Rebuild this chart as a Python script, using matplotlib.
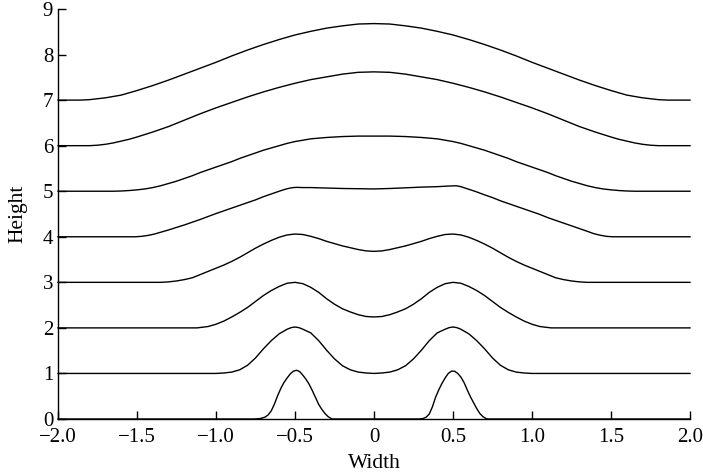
import matplotlib
matplotlib.use("Agg")
import matplotlib.pyplot as plt

plt.rcParams['font.family'] = ['Liberation Serif', 'DejaVu Serif']

# ---- data (x = width, y = height of each stacked profile) ----
x0 = [-2.0, -0.76, -0.72, -0.69, -0.67, -0.65, -0.63, -0.61, -0.59, -0.57, -0.55, -0.53, -0.51, -0.49, -0.47, -0.45,
      -0.43, -0.41, -0.39, -0.37, -0.35, -0.33, -0.31, -0.29, -0.27, -0.26,
      0.285, 0.31, 0.33, 0.35, 0.37, 0.39, 0.41, 0.43, 0.45, 0.47, 0.49, 0.51, 0.53, 0.55, 0.57, 0.59, 0.61, 0.63,
      0.65, 0.67, 0.69, 0.71, 0.72, 2.0]
y0 = [0.0, 0.0, 0.01, 0.04, 0.09, 0.18, 0.33, 0.51, 0.67, 0.80, 0.90, 0.99, 1.05, 1.07, 1.04, 0.96,
      0.87, 0.76, 0.62, 0.47, 0.32, 0.21, 0.12, 0.05, 0.01, 0.0,
      0.0, 0.01, 0.04, 0.11, 0.27, 0.48, 0.64, 0.78, 0.90, 1.00, 1.05, 1.05, 1.00, 0.92, 0.80, 0.64, 0.49, 0.36,
      0.23, 0.12, 0.05, 0.01, 0.0, 0.0]

x1 = [-2.0, -1.0, -0.95, -0.90, -0.85, -0.80, -0.75, -0.70, -0.65, -0.60, -0.55, -0.525, -0.50, -0.475, -0.45, -0.40,
      -0.35, -0.30, -0.25, -0.20, -0.15, -0.10, -0.05, 0.0, 0.05, 0.10, 0.15, 0.20, 0.25, 0.30, 0.35, 0.40, 0.45,
      0.475, 0.50, 0.525, 0.55, 0.60, 0.65, 0.70, 0.75, 0.80, 0.85, 0.90, 0.95, 1.0, 2.0]
y1 = [1.0, 1.0, 1.01, 1.03, 1.08, 1.18, 1.34, 1.54, 1.72, 1.87, 1.97, 2.005, 2.02, 2.005, 1.97, 1.89,
      1.72, 1.51, 1.32, 1.17, 1.08, 1.03, 1.01, 1.0, 1.01, 1.03, 1.08, 1.17, 1.32, 1.51, 1.72, 1.89, 1.97,
      2.005, 2.02, 2.005, 1.97, 1.87, 1.72, 1.54, 1.34, 1.18, 1.08, 1.03, 1.01, 1.0, 1.0]

x2 = [-2.0, -1.12, -1.05, -1.0, -0.95, -0.90, -0.85, -0.80, -0.75, -0.70, -0.65, -0.60, -0.55, -0.50, -0.45, -0.40,
      -0.35, -0.30, -0.25, -0.20, -0.15, -0.10, -0.05, 0.0, 0.05, 0.10, 0.15, 0.20, 0.25, 0.30, 0.35, 0.40, 0.45,
      0.50, 0.55, 0.60, 0.65, 0.70, 0.75, 0.80, 0.85, 0.90, 0.95, 1.0, 1.05, 1.12, 2.0]
y2 = [2.0, 2.0, 2.03, 2.08, 2.15, 2.24, 2.34, 2.45, 2.58, 2.71, 2.82, 2.91, 2.98, 3.00, 2.97, 2.89,
      2.78, 2.64, 2.52, 2.42, 2.35, 2.29, 2.25, 2.24, 2.25, 2.29, 2.35, 2.42, 2.52, 2.64, 2.78, 2.89, 2.97,
      3.00, 2.98, 2.91, 2.82, 2.71, 2.58, 2.45, 2.34, 2.24, 2.15, 2.08, 2.03, 2.0, 2.0]

x3 = [-2.0, -1.35, -1.30, -1.25, -1.20, -1.15, -1.10, -1.05, -1.0, -0.95, -0.90, -0.85, -0.80, -0.75, -0.70, -0.65,
      -0.60, -0.55, -0.50, -0.45, -0.40, -0.35, -0.30, -0.25, -0.20, -0.15, -0.10, -0.05, 0.0,
      0.05, 0.10, 0.15, 0.20, 0.25, 0.30, 0.35, 0.40, 0.45, 0.50, 0.55, 0.60, 0.65, 0.70, 0.75, 0.80, 0.85,
      0.90, 0.95, 1.0, 1.05, 1.10, 1.15, 1.20, 1.25, 1.30, 1.35, 2.0]
y3 = [3.0, 3.0, 3.01, 3.03, 3.06, 3.10, 3.17, 3.24, 3.31, 3.38, 3.46, 3.55, 3.65, 3.75, 3.84, 3.92,
      3.99, 4.04, 4.06, 4.05, 4.01, 3.96, 3.90, 3.85, 3.80, 3.76, 3.72, 3.69, 3.68,
      3.69, 3.72, 3.76, 3.80, 3.85, 3.90, 3.96, 4.01, 4.05, 4.06, 4.04, 3.99, 3.92, 3.84, 3.75, 3.65, 3.55,
      3.46, 3.38, 3.31, 3.24, 3.17, 3.10, 3.06, 3.03, 3.01, 3.0, 3.0]

x4 = [-2.0, -1.51, -1.47, -1.43, -1.39, -1.35, -1.30, -1.25, -1.20, -1.15, -1.10, -1.05, -1.0, -0.95, -0.90, -0.85,
      -0.80, -0.75, -0.70, -0.65, -0.60, -0.56, -0.53, -0.51, -0.49, -0.45, -0.40, -0.30, -0.20, -0.10, 0.0,
      0.10, 0.20, 0.30, 0.40, 0.48, 0.52, 0.55, 0.58, 0.62, 0.65, 0.70, 0.75, 0.80, 0.85, 0.90, 0.95, 1.0,
      1.05, 1.10, 1.15, 1.20, 1.25, 1.30, 1.35, 1.39, 1.43, 1.47, 1.51, 2.0]
y4 = [4.0, 4.0, 4.01, 4.03, 4.06, 4.10, 4.15, 4.205, 4.26, 4.32, 4.38, 4.445, 4.51, 4.57, 4.63, 4.69,
      4.75, 4.81, 4.88, 4.94, 5.00, 5.045, 5.07, 5.08, 5.085, 5.08, 5.08, 5.07, 5.06, 5.055, 5.05,
      5.06, 5.075, 5.09, 5.10, 5.115, 5.12, 5.10, 5.065, 5.02, 4.985, 4.92, 4.86, 4.79, 4.73, 4.67, 4.61, 4.55,
      4.49, 4.42, 4.36, 4.30, 4.24, 4.18, 4.12, 4.07, 4.035, 4.01, 4.0, 4.0]

x5 = [-2.0, -1.65, -1.60, -1.55, -1.50, -1.45, -1.40, -1.35, -1.30, -1.25, -1.20, -1.15, -1.10, -1.05, -1.0, -0.95,
      -0.90, -0.85, -0.80, -0.75, -0.70, -0.65, -0.60, -0.55, -0.50, -0.45, -0.40, -0.30, -0.20, -0.10, 0.0,
      0.10, 0.20, 0.30, 0.40, 0.45, 0.50, 0.55, 0.60, 0.65, 0.70, 0.75, 0.80, 0.85, 0.90, 0.95, 1.0, 1.05,
      1.10, 1.15, 1.20, 1.25, 1.30, 1.35, 1.40, 1.45, 1.50, 1.55, 1.60, 1.65, 2.0]
y5 = [5.0, 5.0, 5.005, 5.015, 5.03, 5.05, 5.08, 5.12, 5.17, 5.22, 5.28, 5.34, 5.41, 5.47, 5.53, 5.59,
      5.65, 5.72, 5.78, 5.84, 5.90, 5.95, 6.00, 6.05, 6.09, 6.12, 6.15, 6.18, 6.20, 6.21, 6.21,
      6.21, 6.20, 6.18, 6.15, 6.12, 6.09, 6.05, 6.00, 5.95, 5.90, 5.84, 5.78, 5.72, 5.65, 5.59, 5.53, 5.47,
      5.41, 5.34, 5.28, 5.22, 5.17, 5.12, 5.08, 5.05, 5.03, 5.015, 5.005, 5.0, 5.0]

x6 = [-2.0, -1.80, -1.75, -1.70, -1.65, -1.60, -1.55, -1.50, -1.40, -1.30, -1.20, -1.10, -1.0, -0.90, -0.80, -0.70,
      -0.60, -0.50, -0.40, -0.30, -0.20, -0.10, 0.0, 0.10, 0.20, 0.30, 0.40, 0.50, 0.60, 0.70, 0.80, 0.90,
      1.0, 1.10, 1.20, 1.30, 1.40, 1.50, 1.55, 1.60, 1.65, 1.70, 1.75, 1.80, 2.0]
y6 = [6.0, 6.0, 6.01, 6.03, 6.06, 6.10, 6.14, 6.19, 6.30, 6.42, 6.56, 6.70, 6.83, 6.95, 7.07, 7.18,
      7.28, 7.37, 7.45, 7.51, 7.57, 7.61, 7.62, 7.61, 7.57, 7.51, 7.45, 7.37, 7.28, 7.18, 7.07, 6.95,
      6.83, 6.70, 6.56, 6.42, 6.30, 6.19, 6.14, 6.10, 6.06, 6.03, 6.01, 6.0, 6.0]

x7 = [-2.0, -1.86, -1.80, -1.75, -1.70, -1.65, -1.60, -1.50, -1.40, -1.30, -1.20, -1.10, -1.0, -0.90, -0.80, -0.70,
      -0.60, -0.50, -0.40, -0.30, -0.20, -0.10, 0.0, 0.10, 0.20, 0.30, 0.40, 0.50, 0.60, 0.70, 0.80, 0.90,
      1.0, 1.10, 1.20, 1.30, 1.40, 1.50, 1.60, 1.65, 1.70, 1.75, 1.80, 1.86, 2.0]
y7 = [7.0, 7.0, 7.01, 7.03, 7.05, 7.08, 7.11, 7.21, 7.32, 7.44, 7.57, 7.70, 7.83, 7.97, 8.10, 8.22,
      8.33, 8.43, 8.51, 8.58, 8.63, 8.67, 8.68, 8.67, 8.63, 8.58, 8.51, 8.43, 8.33, 8.22, 8.10, 7.97,
      7.83, 7.70, 7.57, 7.44, 7.32, 7.21, 7.11, 7.08, 7.05, 7.03, 7.01, 7.0, 7.0]

curves = [(x0, y0), (x1, y1), (x2, y2), (x3, y3), (x4, y4), (x5, y5), (x6, y6), (x7, y7)]

x_ticks = [-2.0, -1.5, -1.0, -0.5, 0.0, 0.5, 1.0, 1.5, 2.0]
x_tick_labels = ['\u22122.0', '\u22121.5', '\u22121.0', '\u22120.5', '0', '0.5', '1.0', '1.5', '2.0']
y_ticks = [0, 1, 2, 3, 4, 5, 6, 7, 8, 9]
y_tick_labels = ['0', '1', '2', '3', '4', '5', '6', '7', '8', '9']

fig = plt.figure(figsize=(7.03, 4.76), dpi=100)
ax = fig.add_axes([58 / 703, 57 / 476, (690 - 58) / 703, (419 - 9) / 476])

for xs, ys in curves:
    ax.plot(xs, ys, color='black', lw=1.0, clip_on=False, solid_joinstyle='round')

ax.set_xlim(-2.0, 2.0)
ax.set_ylim(0, 9)
ax.set_xticks(x_ticks)
ax.set_xticklabels(x_tick_labels)
ax.set_yticks(y_ticks)
ax.set_yticklabels(y_tick_labels)
ax.tick_params(direction='in', length=6, width=1.0, labelsize=15)
ax.tick_params(axis='x', pad=6.5)
ax.tick_params(axis='y', pad=3.5)
ax.spines['top'].set_visible(False)
ax.spines['right'].set_visible(False)
for s in ('left', 'bottom'):
    ax.spines[s].set_linewidth(1.0)
ax.set_xlabel('Width', fontsize=15.5, labelpad=5)
ax.set_ylabel('Height', fontsize=15.5, labelpad=11)

fig.savefig('out.png', dpi=100)
